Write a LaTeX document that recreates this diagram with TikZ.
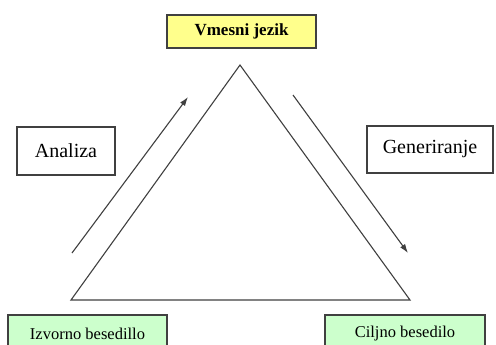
\documentclass[tikz,border=0pt]{standalone}
\usepackage{fontspec}
\setmainfont{Liberation Serif}
\usetikzlibrary{arrows.meta}
\definecolor{edge}{HTML}{404040}
\definecolor{paleyellow}{HTML}{FFFF8C}
\definecolor{palegreen}{HTML}{CCFFCC}
\tikzset{
  x=1pt, y=-1pt,
  labelbox/.style={draw=edge, line width=1.3pt, inner sep=0pt, align=center},
  side/.style={draw=edge, line width=1.1pt},
  flow/.style={draw=edge, line width=1.1pt, -{Latex[length=9pt,width=6pt]}}
}
\begin{document}
\begin{tikzpicture}
  \useasboundingbox (0,0) rectangle (496,345);
  \clip (0,0) rectangle (496,345);
  \fill[white] (0,0) rectangle (496,345);

  % labelled boxes
  \node[labelbox, fill=paleyellow, minimum width=149pt, minimum height=33pt,
        font=\fontsize{17}{20}\selectfont\bfseries] (mid) at (241.5,31.5) {Vmesni jezik};
  \node[labelbox, fill=white, minimum width=98pt, minimum height=48pt,
        font=\fontsize{20}{24}\selectfont] (ana) at (66,151) {Analiza};
  \node[labelbox, fill=white, minimum width=126pt, minimum height=47pt,
        font=\fontsize{20}{24}\selectfont] (gen) at (430,149.5) {Generiranje};
  \node[labelbox, fill=palegreen, minimum width=159pt, minimum height=38pt,
        font=\fontsize{16.5}{20}\selectfont] (src) at (87.5,334) {Izvorno besedillo};
  \node[labelbox, fill=palegreen, minimum width=160pt, minimum height=38pt,
        font=\fontsize{16.5}{20}\selectfont] (tgt) at (405,334) {Ciljno besedilo};

  % triangle
  \coordinate (apex) at (240,65);
  \coordinate (bl) at (71,300);
  \coordinate (br) at (410,300);
  \draw[side] (apex) -- (bl) -- (br) -- cycle;

  % process arrows
  \coordinate (upA) at (72,253);
  \coordinate (upB) at (188,97);
  \coordinate (dnA) at (293,95);
  \coordinate (dnB) at (408,253);
  \draw[flow] (upA) -- (upB);
  \draw[flow] (dnA) -- (dnB);
\end{tikzpicture}
\end{document}
